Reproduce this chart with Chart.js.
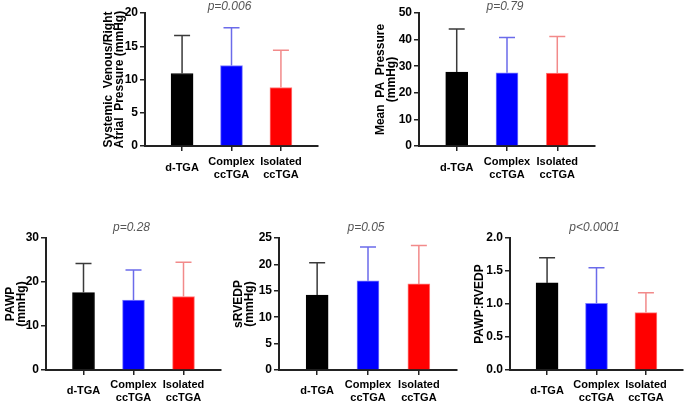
<!DOCTYPE html>
<html><head><meta charset="utf-8">
<script src="https://cdn.jsdelivr.net/npm/chart.js@4/dist/chart.umd.min.js"></script>
<style>
html,body{margin:0;padding:0;background:#fff;width:685px;height:401px;overflow:hidden;position:relative}
canvas{position:absolute}
</style></head><body>
<canvas id="c1" width="250" height="190" style="left:90px;top:0px"></canvas>
<canvas id="c2" width="260" height="190" style="left:360px;top:0px"></canvas>
<canvas id="c3" width="230" height="186" style="left:0px;top:215px"></canvas>
<canvas id="c4" width="240" height="186" style="left:225px;top:215px"></canvas>
<canvas id="c5" width="225" height="186" style="left:460px;top:215px"></canvas>
<script>
// ---- data ----
const groups = ['d-TGA', ['Complex', 'ccTGA'], ['Isolated', 'ccTGA']];

const svMean = [10.9, 12.1, 8.8];
const svSD   = [5.7, 5.7, 5.6];
const svTicks = [0, 5, 10, 15, 20];

const mpaMean = [27.8, 27.5, 27.4];
const mpaSD   = [16.2, 13.3, 13.8];
const mpaTicks = [0, 10, 20, 30, 40, 50];

const pawpMean = [17.6, 15.9, 16.7];
const pawpSD   = [6.6, 6.8, 7.8];
const pawpTicks = [0, 10, 20, 30];

const rvedpMean = [14.2, 16.9, 16.3];
const rvedpSD   = [6.1, 6.4, 7.3];
const rvedpTicks = [0, 5, 10, 15, 20, 25];

const ratioMean = [1.32, 1.01, 0.87];
const ratioSD   = [0.38, 0.54, 0.30];
const ratioTicks = [0, 0.5, 1.0, 1.5, 2.0];

const pValues = ['p=0.006', 'p=0.79', 'p=0.28', 'p=0.05', 'p<0.0001'];

// ---- styles ----
const barColors = ['#000000', '#0000ff', '#ff0000'];
const barBorders = ['#000000', '#7c7cff', '#ff7c7c'];
const errColors = ['#3a3a3a', '#6b6bea', '#f28a8a'];
const FONT = '"Liberation Sans", Arial, sans-serif';

const errorBarPlugin = {
  id: 'errbars',
  afterDatasetsDraw(chart, args, opts) {
    const meta = chart.getDatasetMeta(0);
    const ys = chart.scales.y;
    const ctx = chart.ctx;
    ctx.save();
    meta.data.forEach((bar, i) => {
      const v = chart.data.datasets[0].data[i].y;
      const top = ys.getPixelForValue(v + opts.sd[i]);
      ctx.strokeStyle = errColors[i];
      ctx.lineWidth = 1.5;
      ctx.beginPath();
      ctx.moveTo(bar.x, bar.y);
      ctx.lineTo(bar.x, top);
      ctx.moveTo(bar.x - 8, top);
      ctx.lineTo(bar.x + 8, top);
      ctx.stroke();
    });
    ctx.restore();
  }
};

const pPlugin = {
  id: 'ptext',
  afterDraw(chart, args, opts) {
    const ctx = chart.ctx;
    const xs = chart.scales.x;
    ctx.save();
    ctx.font = 'italic 12px ' + FONT;
    ctx.fillStyle = '#555555';
    ctx.textAlign = 'center';
    ctx.textBaseline = 'middle';
    ctx.fillText(opts.text, xs.getPixelForValue(2) - 2, chart.chartArea.top - opts.dy);
    ctx.restore();
  }
};

function panel(id, mean, sd, ticks, title, pText, g) {
  const yMax = ticks[ticks.length - 1];
  const step = ticks[1] - ticks[0];
  const decimals = step < 1 ? 1 : 0;
  new Chart(document.getElementById(id), {
    type: 'bar',
    data: {
      datasets: [{
        data: mean.map((v, i) => ({ x: i + 1, y: v })),
        backgroundColor: barColors,
        borderColor: barBorders,
        borderWidth: 1,
        barThickness: 22
      }]
    },
    options: {
      responsive: false,
      animation: false,
      devicePixelRatio: 1,
      layout: { padding: { top: g.top, right: g.right, left: 0, bottom: 0 } },
      plugins: {
        legend: { display: false },
        tooltip: { enabled: false },
        errbars: { sd: sd },
        ptext: { text: pText, dy: g.pdy }
      },
      scales: {
        x: {
          type: 'linear',
          offset: false,
          min: 0.25, max: 3.75,
          afterBuildTicks: s => { s.ticks = groups.map((_, i) => ({ value: i + 1 })); },
          afterFit: s => { s.height = g.xH; },
          ticks: {
            callback: (v) => groups[Math.round(v) - 1],
            font: { family: FONT, size: 11, weight: 'bold', lineHeight: 1.15 },
            color: '#000',
            padding: g.xpad,
            crossAlign: 'center',
            maxRotation: 0,
            autoSkip: false
          },
          grid: { drawOnChartArea: false, offset: false, tickLength: 5, tickColor: '#222', lineWidth: 1.5 },
          border: { color: '#222', width: 2 }
        },
        y: {
          min: 0, max: yMax,
          afterBuildTicks: s => { s.ticks = ticks.map(v => ({ value: v })); },
          afterFit: s => { s.width = g.yW; },
          ticks: {
            callback: v => v.toFixed(decimals),
            font: { family: FONT, size: 12, weight: 'bold' },
            color: '#000',
            padding: 2
          },
          grid: { drawOnChartArea: false, tickLength: 5, tickColor: '#222', lineWidth: 1.5 },
          border: { color: '#222', width: 2 },
          title: {
            display: true,
            text: title,
            font: { family: FONT, size: 12, weight: 'bold', lineHeight: 0.9 },
            color: '#000',
            padding: { top: g.tpad, bottom: 0 }
          }
        }
      }
    },
    plugins: [errorBarPlugin, pPlugin]
  });
}

panel('c1', svMean, svSD, svTicks, ['Systemic  Venous/Right', 'Atrial  Pressure (mmHg)'], pValues[0],
  { top: 13, right: 22, xH: 44, yW: 55, tpad: 13, pdy: 6, xpad: 11 });
panel('c2', mpaMean, mpaSD, mpaTicks, ['Mean  PA  Pressure', '(mmHg)'], pValues[1],
  { top: 13, right: 25, xH: 44, yW: 59, tpad: 15, pdy: 6, xpad: 11 });
panel('c3', pawpMean, pawpSD, pawpTicks, ['PAWP', '(mmHg)'], pValues[2],
  { top: 23, right: 9, xH: 31, yW: 46, tpad: 5, pdy: 10, xpad: 10 });
panel('c4', rvedpMean, rvedpSD, rvedpTicks, ['sRVEDP', '(mmHg)'], pValues[3],
  { top: 23, right: 8, xH: 31, yW: 54, tpad: 8, pdy: 10, xpad: 10 });
panel('c5', ratioMean, ratioSD, ratioTicks, 'PAWP:RVEDP', pValues[4],
  { top: 23, right: 2, xH: 31, yW: 50, tpad: 14, pdy: 10, xpad: 10 });
</script>
</body></html>
